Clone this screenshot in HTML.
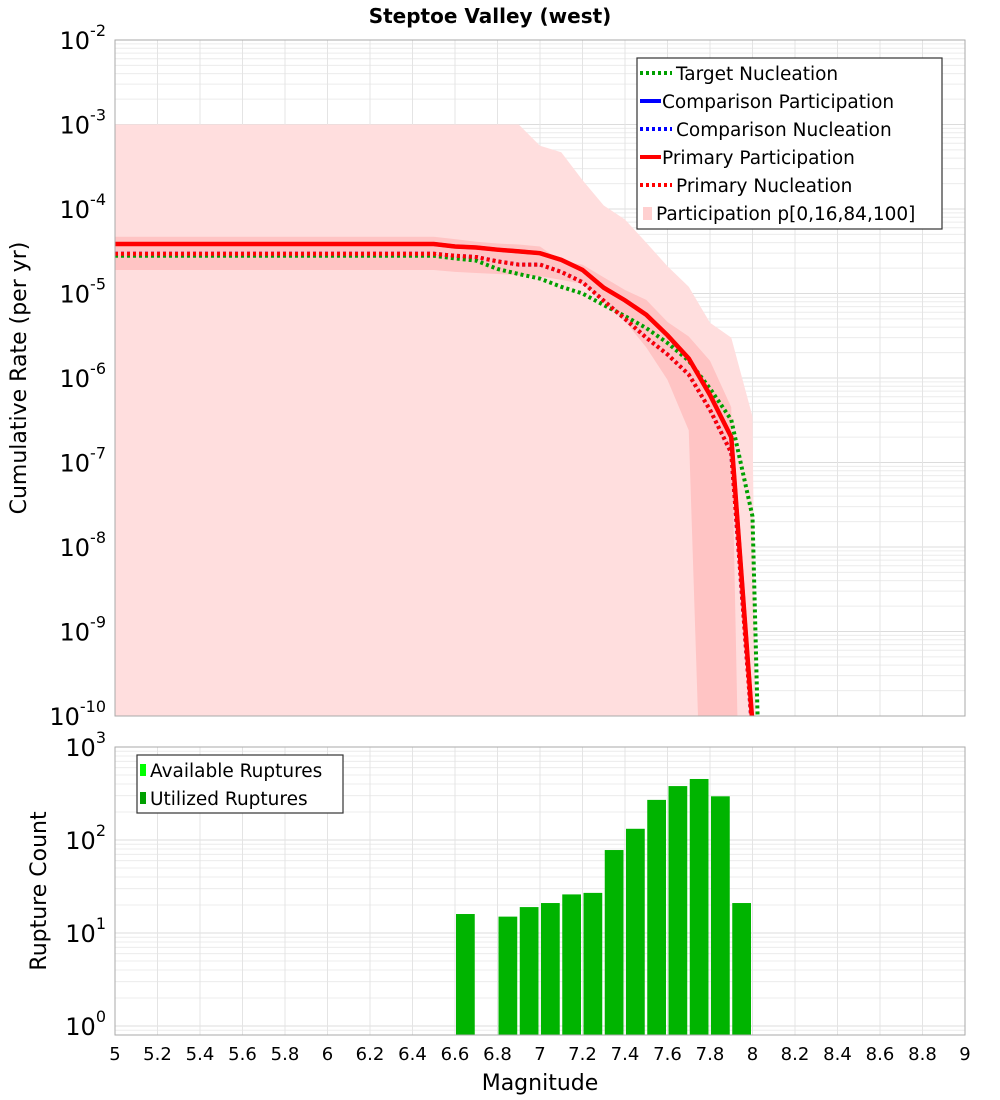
<!DOCTYPE html>
<html><head><meta charset="utf-8">
<style>
body{margin:0;background:#fff;}
svg{display:block;font-family:"DejaVu Sans","Liberation Sans",sans-serif;}
</style></head>
<body>
<svg id="chart" width="1000" height="1100" viewBox="0 0 1000 1100" xmlns="http://www.w3.org/2000/svg">
<defs>
<clipPath id="clipTop"><rect x="115" y="40" width="850" height="676"/></clipPath>
<clipPath id="clipBot"><rect x="115" y="747" width="850" height="288"/></clipPath>
</defs>
<text x="490" y="23" text-anchor="middle" font-size="20" font-weight="bold">Steptoe Valley (west)</text>
<g id="topPanel"></g>
<g id="botPanel"></g>
<text transform="translate(26,378) rotate(-90)" text-anchor="middle" font-size="22">Cumulative Rate (per yr)</text>
<text transform="translate(46,891) rotate(-90)" text-anchor="middle" font-size="22">Rupture Count</text>
<text x="540" y="1090" text-anchor="middle" font-size="22">Magnitude</text>
</svg>
<script>
// ---- data ----
const mags = [5.0,5.1,5.2,5.3,5.4,5.5,5.6,5.7,5.8,5.9,6.0,6.1,6.2,6.3,6.4,6.5,6.6,6.7,6.8,6.9,7.0,7.1,7.2,7.3,7.4,7.5,7.6,7.7,7.8,7.9,8.0,8.1];
const primaryPart = [3.85e-5,3.85e-5,3.85e-5,3.85e-5,3.85e-5,3.85e-5,3.85e-5,3.85e-5,3.85e-5,3.85e-5,3.85e-5,3.85e-5,3.85e-5,3.85e-5,3.85e-5,3.85e-5,3.6e-5,3.5e-5,3.3e-5,3.15e-5,3.0e-5,2.5e-5,1.9e-5,1.17e-5,8.3e-6,5.6e-6,3.2e-6,1.7e-6,6.3e-7,2.0e-7,8e-11,1e-12];
const primaryNucl = [2.95e-5,2.95e-5,2.95e-5,2.95e-5,2.95e-5,2.95e-5,2.95e-5,2.95e-5,2.95e-5,2.95e-5,2.95e-5,2.95e-5,2.95e-5,2.95e-5,2.95e-5,2.95e-5,2.8e-5,2.7e-5,2.4e-5,2.2e-5,2.2e-5,1.8e-5,1.36e-5,8.2e-6,5.0e-6,3.0e-6,1.9e-6,1.1e-6,4.2e-7,1.3e-7,6e-11,1e-12];
const targetNucl = [2.8e-5,2.8e-5,2.8e-5,2.8e-5,2.8e-5,2.8e-5,2.8e-5,2.8e-5,2.8e-5,2.8e-5,2.8e-5,2.8e-5,2.8e-5,2.8e-5,2.8e-5,2.8e-5,2.6e-5,2.45e-5,1.95e-5,1.7e-5,1.5e-5,1.2e-5,1.0e-5,7.3e-6,5.4e-6,3.9e-6,2.6e-6,1.6e-6,7.5e-7,3.2e-7,2.3e-8,3e-18];
const band100 = [1e-3,1e-3,1e-3,1e-3,1e-3,1e-3,1e-3,1e-3,1e-3,1e-3,1e-3,1e-3,1e-3,1e-3,1e-3,1e-3,1e-3,1e-3,1e-3,1e-3,5.6e-4,4.7e-4,2.2e-4,1.1e-4,7.5e-5,4.0e-5,2.1e-5,1.2e-5,4.5e-6,3.0e-6,3.5e-7,1e-30];
const band84 = [4.7e-5,4.7e-5,4.7e-5,4.7e-5,4.7e-5,4.7e-5,4.7e-5,4.7e-5,4.7e-5,4.7e-5,4.7e-5,4.7e-5,4.7e-5,4.7e-5,4.7e-5,4.7e-5,4.4e-5,4.1e-5,3.9e-5,3.8e-5,3.6e-5,2.4e-5,2.2e-5,1.55e-5,1.1e-5,8.4e-6,4.6e-6,3.1e-6,1.6e-6,4.5e-7,1e-19,1e-30];
const band16 = [1.9e-5,1.9e-5,1.9e-5,1.9e-5,1.9e-5,1.9e-5,1.9e-5,1.9e-5,1.9e-5,1.9e-5,1.9e-5,1.9e-5,1.9e-5,1.9e-5,1.9e-5,1.9e-5,1.8e-5,1.75e-5,1.7e-5,1.65e-5,1.6e-5,1.45e-5,1.3e-5,8.0e-6,4.7e-6,2.3e-6,9.5e-7,2.4e-7,4e-15,1e-30,1e-30,1e-30];
const barMags = [6.6,6.8,6.9,7.0,7.1,7.2,7.3,7.4,7.5,7.6,7.7,7.8,7.9];
const barCounts = [16,15,19,21,26,27,78,132,270,380,453,295,21];
const xTicks = [5,5.2,5.4,5.6,5.8,6,6.2,6.4,6.6,6.8,7,7.2,7.4,7.6,7.8,8,8.2,8.4,8.6,8.8,9];
const xTickLabels = ["5","5.2","5.4","5.6","5.8","6","6.2","6.4","6.6","6.8","7","7.2","7.4","7.6","7.8","8","8.2","8.4","8.6","8.8","9"];
const topExps = [-2,-3,-4,-5,-6,-7,-8,-9,-10];
const botExps = [3,2,1,0];

// ---- scales ----
const L=115,R=965,T1=40,B1=716,T2=747,B2=1035;
const X = m => L + (m-5)*(R-L)/4;
const Y1 = v => T1 + (-2 - Math.log10(v))*(B1-T1)/8;
const Y2 = v => T2 + (3 - Math.log10(v))*93;
const NS="http://www.w3.org/2000/svg";
function mk(tag, attrs, parent){const e=document.createElementNS(NS,tag);for(const k in attrs)e.setAttribute(k,attrs[k]);parent.appendChild(e);return e;}
const topG=document.getElementById('topPanel'), botG=document.getElementById('botPanel');

function grid(g,T,B,Yf,dmin,dmax,name){
  mk('rect',{x:L,y:T,width:R-L,height:B-T,fill:'#fff'},g);
  const gg=mk('g',{},g);
  
  
  for(let d=dmin; d<dmax; d++){
    for(let k=1;k<10;k++){
      const y=Yf(k*Math.pow(10,d));
      if(y<T||y>B) continue;
      mk('line',{x1:L,x2:R,y1:y,y2:y,stroke:k==1?'#dcdcdc':'#ececec','stroke-width':1},gg);
    }
  }
  xTicks.forEach(m=>{const x=X(m);mk('line',{x1:x,x2:x,y1:T,y2:B,stroke:'#e4e4e4','stroke-width':1},gg);});
}
grid(topG,T1,B1,Y1,-10,-2,'rate');
grid(botG,T2,B2,Y2,-1,3,'count');

// bands and lines (top)
const ct=mk('g',{'clip-path':'url(#clipTop)'},topG);
function bandPath(up,lo){
  let d='';
  mags.forEach((m,i)=>{d+=(i?'L':'M')+X(m)+','+Math.min(Y1(up[i]),5000);});
  for(let i=mags.length-1;i>=0;i--){d+='L'+X(mags[i])+','+Math.min(Y1(lo[i]),5000);}
  return d+'Z';
}
const outer=mk('path',{d:bandPath(band100,band100.map(()=>1e-30)),fill:'#ffdede'},ct);


const inner=mk('path',{d:bandPath(band84,band16),fill:'#ffc4c4'},ct);


function line(vals,color,w,dash,name){
  const d=mags.map((m,i)=>(i?'L':'M')+X(m)+','+Math.min(Y1(vals[i]),5000)).join('');
  const p=mk('path',{d:d,fill:'none',stroke:color,'stroke-width':w},ct);
  if(dash)p.setAttribute('stroke-dasharray',dash);
  
  
}
line(primaryPart,'#0000ff',4,null,'comparison-participation-line');
line(primaryNucl,'#0000ff',4,'3,3','comparison-nucleation-line');
line(targetNucl,'#00a000',4,'3,3','target-nucleation-line');
line(primaryPart,'#ff0000',4.5,null,'primary-participation-line');
line(primaryNucl,'#ff0000',4,'3,3','primary-nucleation-line');

// bars (bottom)
const cb=mk('g',{'clip-path':'url(#clipBot)'},botG);
barMags.forEach((m,i)=>{
  const x=X(m)+1, w=X(m+0.1)-X(m)-2.5, y=Y2(barCounts[i]);
  const r=mk('rect',{x:x,y:y,width:w,height:B2-y,fill:'#00b400'},cb);
  
  
});

// frames
mk('rect',{x:L,y:T1,width:R-L,height:B1-T1,fill:'none',stroke:'#aaa','stroke-width':1},topG);
mk('rect',{x:L,y:T2,width:R-L,height:B2-T2,fill:'none',stroke:'#aaa','stroke-width':1},botG);

// tick labels
function expLabel(g,y,e,name){
  const t=mk('text',{x:L-9,y:y+9,'text-anchor':'end','font-size':24},g);
  
  
  const a=document.createElementNS(NS,'tspan');a.textContent='10';t.appendChild(a);
  const b=document.createElementNS(NS,'tspan');b.setAttribute('dy','-13');b.setAttribute('font-size','16');b.textContent=String(e);t.appendChild(b);
}
topExps.forEach(e=>expLabel(topG,Y1(Math.pow(10,e)),e,'y-tick-label-rate'));
botExps.forEach(e=>expLabel(botG,Y2(Math.pow(10,e)),e,'y-tick-label-count'));
xTicks.forEach((m,i)=>{
  const t=mk('text',{x:X(m),y:1060,'text-anchor':'middle','font-size':18},botG);
  t.textContent=xTickLabels[i];
  
  
});

// legends
const lg=mk('g',{},topG);


mk('rect',{x:637,y:58,width:305,height:171,fill:'#fff',stroke:'#333','stroke-width':1.2},lg);
const entries=[['Target Nucleation','#00a000','d',676],['Comparison Participation','#0000ff','s',662],['Comparison Nucleation','#0000ff','d',676],['Primary Participation','#ff0000','s',662],['Primary Nucleation','#ff0000','d',676],['Participation p[0,16,84,100]','#ffd0d0','b',656]];
entries.forEach((en,i)=>{
  const y=73+i*28;
  if(en[2]=='b') mk('rect',{x:643,y:y-6,width:9,height:13,fill:en[1]},lg);
  else { const l=mk('line',{x1:640,x2:en[2]=='s'?661:672,y1:y,y2:y,stroke:en[1],'stroke-width':4},lg); if(en[2]=='d')l.setAttribute('stroke-dasharray','3,3'); }
  const t=mk('text',{x:en[3],y:y+7,'font-size':18.5},lg);
  t.textContent=en[0];
  
  
});
const lb=mk('g',{},botG);


mk('rect',{x:137,y:755,width:206,height:58,fill:'#fff',stroke:'#333','stroke-width':1.2},lb);
[['Available Ruptures','#00ff00'],['Utilized Ruptures','#00a000']].forEach((en,i)=>{
  const y=770+i*28;
  mk('rect',{x:140,y:y-6,width:6,height:12,fill:en[1]},lb);
  const t=mk('text',{x:150,y:y+7,'font-size':18.5},lb);
  t.textContent=en[0];
  
  
});
</script>
</body></html>
